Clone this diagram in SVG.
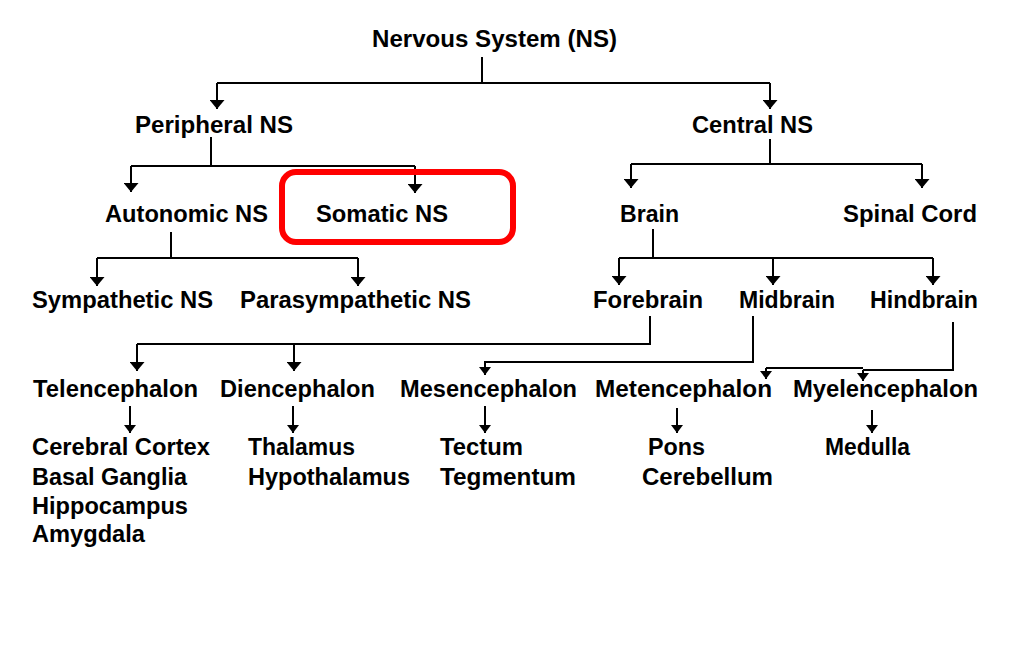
<svg xmlns="http://www.w3.org/2000/svg" width="1026" height="662" viewBox="0 0 1026 662">
<defs>
<style>
text{font-family:"Liberation Sans",Arial,sans-serif;font-weight:bold;font-size:23px;fill:#000}
.c path{fill:none;stroke:#000;stroke-width:2}
.a{marker-end:url(#ah)}
.s{marker-end:url(#sh)}
</style>
<marker id="ah" viewBox="0 0 9 15" refX="9" refY="7.5" markerWidth="9" markerHeight="15" markerUnits="userSpaceOnUse" orient="auto"><path d="M0,0 L9,7.5 L0,15 z" fill="#000"/></marker>
<marker id="sh" viewBox="0 0 8 12" refX="8" refY="6" markerWidth="8" markerHeight="12" markerUnits="userSpaceOnUse" orient="auto"><path d="M0,0 L8,6 L0,12 z" fill="#000"/></marker>
</defs>
<rect width="1026" height="662" fill="#fff"/>
<g id="connectors" class="c">
<path d="M482,57 V83 M217,83 H770"/>
<path class="a" d="M217,83 V109"/>
<path class="a" d="M770,83 V109"/>
<path d="M211,137 V166 M131,166 H415"/>
<path class="a" d="M131,166 V192"/>
<path class="a" d="M415,166 V193"/>
<path d="M770,139 V164 M631,164 H922"/>
<path class="a" d="M631,164 V188"/>
<path class="a" d="M922,164 V188"/>
<path d="M171,232 V258 M97,258 H358"/>
<path class="a" d="M97,258 V286"/>
<path class="a" d="M358,258 V286"/>
<path d="M653,229 V258 M619,258 H933"/>
<path class="a" d="M619,258 V285"/>
<path class="a" d="M773,258 V285"/>
<path class="a" d="M933,258 V285"/>
<path d="M650,316 V344 H137"/>
<path class="a" d="M137,344 V371"/>
<path class="a" d="M294,344 V371"/>
<path class="s" d="M753,316 V362 H485 V375"/>
<path d="M953,322 V370 H863 M863,368 H766"/>
<path class="s" d="M766,368 V379"/>
<path class="s" d="M863,370 V381"/>
<path class="s" d="M130,406 V433"/>
<path class="s" d="M293,406 V433"/>
<path class="s" d="M485,406 V433"/>
<path class="s" d="M677,408 V433"/>
<path class="s" d="M872,410 V433"/>
</g>
<g id="highlight"><rect x="282" y="172" width="231" height="70" rx="14" fill="none" stroke="#f00" stroke-width="6"/></g>
<g id="n-ns"><text x="372" y="47" textLength="245" lengthAdjust="spacingAndGlyphs">Nervous System (NS)</text></g>
<g id="n-peripheral"><text x="135" y="133" textLength="158" lengthAdjust="spacingAndGlyphs">Peripheral NS</text></g>
<g id="n-central"><text x="692" y="133" textLength="121" lengthAdjust="spacingAndGlyphs">Central NS</text></g>
<g id="n-autonomic"><text x="105" y="222" textLength="163" lengthAdjust="spacingAndGlyphs">Autonomic NS</text></g>
<g id="n-somatic"><text x="316" y="222" textLength="132" lengthAdjust="spacingAndGlyphs">Somatic NS</text></g>
<g id="n-brain"><text x="620" y="222" textLength="59" lengthAdjust="spacingAndGlyphs">Brain</text></g>
<g id="n-spinal"><text x="843" y="222" textLength="134" lengthAdjust="spacingAndGlyphs">Spinal Cord</text></g>
<g id="n-sympathetic"><text x="32" y="308" textLength="181" lengthAdjust="spacingAndGlyphs">Sympathetic NS</text></g>
<g id="n-parasympathetic"><text x="240" y="308" textLength="231" lengthAdjust="spacingAndGlyphs">Parasympathetic NS</text></g>
<g id="n-forebrain"><text x="593" y="308" textLength="110" lengthAdjust="spacingAndGlyphs">Forebrain</text></g>
<g id="n-midbrain"><text x="739" y="308" textLength="96" lengthAdjust="spacingAndGlyphs">Midbrain</text></g>
<g id="n-hindbrain"><text x="870" y="308" textLength="108" lengthAdjust="spacingAndGlyphs">Hindbrain</text></g>
<g id="n-telencephalon"><text x="33" y="397" textLength="165" lengthAdjust="spacingAndGlyphs">Telencephalon</text></g>
<g id="n-diencephalon"><text x="220" y="397" textLength="155" lengthAdjust="spacingAndGlyphs">Diencephalon</text></g>
<g id="n-mesencephalon"><text x="400" y="397" textLength="177" lengthAdjust="spacingAndGlyphs">Mesencephalon</text></g>
<g id="n-metencephalon"><text x="595" y="397" textLength="177" lengthAdjust="spacingAndGlyphs">Metencephalon</text></g>
<g id="n-myelencephalon"><text x="793" y="397" textLength="185" lengthAdjust="spacingAndGlyphs">Myelencephalon</text></g>
<g id="n-telen-parts">
<text x="32" y="455" textLength="178" lengthAdjust="spacingAndGlyphs">Cerebral Cortex</text>
<text x="32" y="485" textLength="155" lengthAdjust="spacingAndGlyphs">Basal Ganglia</text>
<text x="32" y="514" textLength="156" lengthAdjust="spacingAndGlyphs">Hippocampus</text>
<text x="32" y="542" textLength="113" lengthAdjust="spacingAndGlyphs">Amygdala</text>
</g>
<g id="n-dien-parts">
<text x="248" y="455" textLength="107" lengthAdjust="spacingAndGlyphs">Thalamus</text>
<text x="248" y="485" textLength="162" lengthAdjust="spacingAndGlyphs">Hypothalamus</text>
</g>
<g id="n-mesen-parts">
<text x="440" y="455" textLength="83" lengthAdjust="spacingAndGlyphs">Tectum</text>
<text x="440" y="485" textLength="136" lengthAdjust="spacingAndGlyphs">Tegmentum</text>
</g>
<g id="n-meten-parts">
<text x="648" y="455" textLength="57" lengthAdjust="spacingAndGlyphs">Pons</text>
<text x="642" y="485" textLength="131" lengthAdjust="spacingAndGlyphs">Cerebellum</text>
</g>
<g id="n-myelen-parts">
<text x="825" y="455" textLength="85" lengthAdjust="spacingAndGlyphs">Medulla</text>
</g>
</svg>
